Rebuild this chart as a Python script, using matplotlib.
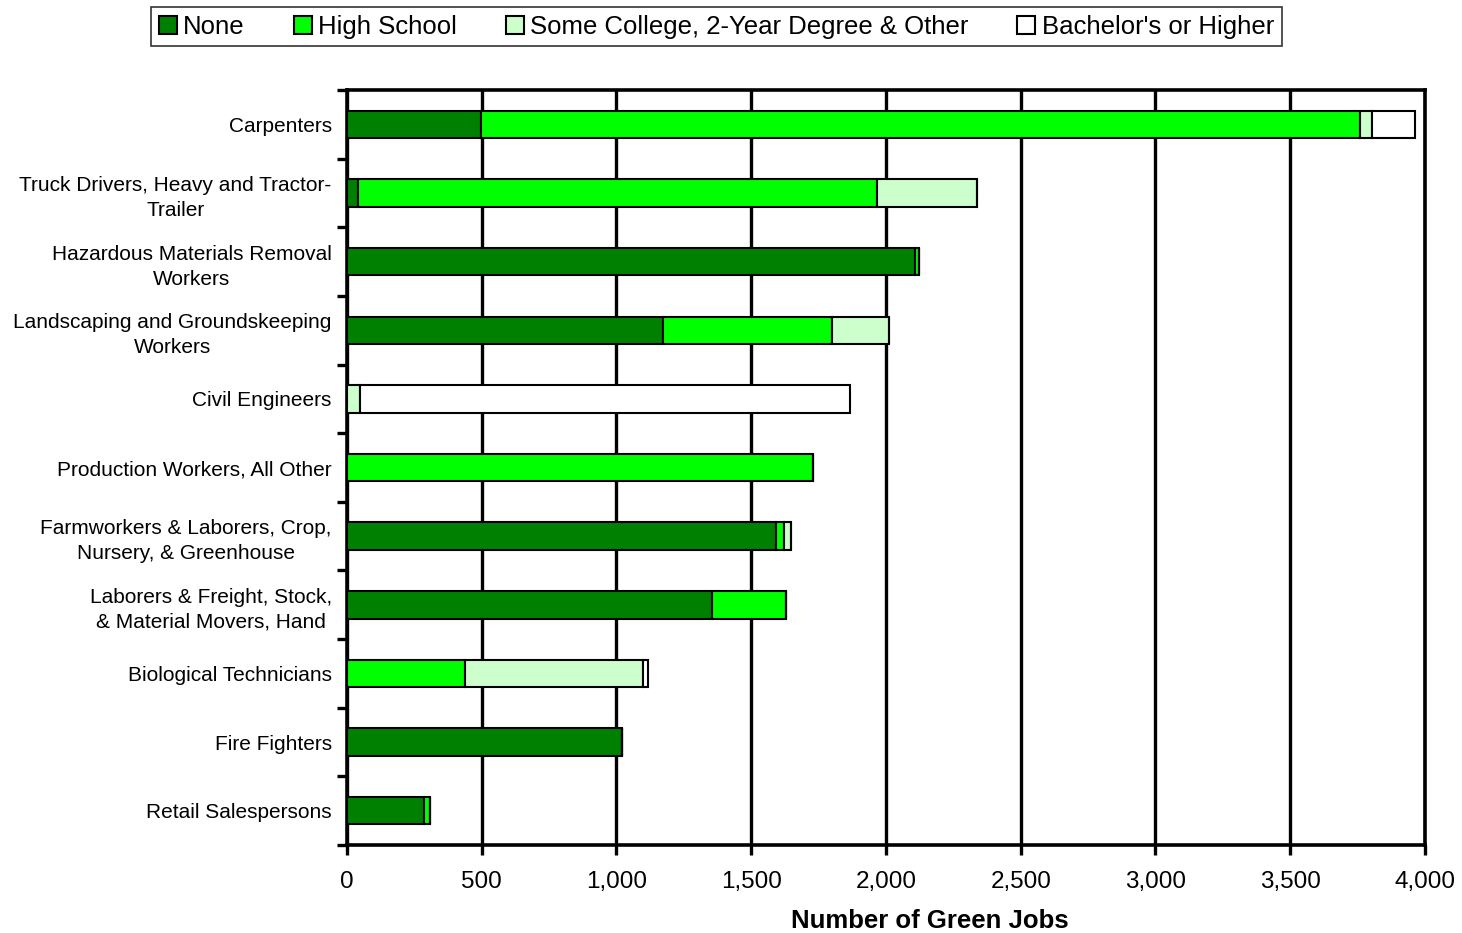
import matplotlib.pyplot as plt
import numpy as np

plt.rcParams['font.family'] = ['Liberation Sans', 'DejaVu Sans']

jobs = ['Carpenters', 'Truck Drivers, Heavy and Tractor-\nTrailer',
        'Hazardous Materials Removal\nWorkers',
        'Landscaping and Groundskeeping\nWorkers', 'Civil Engineers',
        'Production Workers, All Other',
        'Farmworkers & Laborers, Crop,\nNursery, & Greenhouse',
        'Laborers & Freight, Stock,\n& Material Movers, Hand',
        'Biological Technicians', 'Fire Fighters', 'Retail Salespersons']

none = [497, 41, 2107, 1172, 0, 0, 1592, 1354, 0, 1020, 286]
high_school = [3261, 1925, 15, 627, 0, 1729, 29, 275, 438, 0, 22]
some_college = [45, 371, 0, 212, 48, 0, 26, 0, 660, 0, 0]
bachelors = [160, 0, 0, 0, 1818, 0, 0, 0, 19, 0, 0]

series = [('None', none, '#008000'),
          ('High School', high_school, '#00ff00'),
          ("Some College, 2-Year Degree & Other", some_college, '#ccffcc'),
          ("Bachelor's or Higher", bachelors, '#ffffff')]

fig = plt.figure(figsize=(14.62, 9.33), dpi=100)
ax = fig.add_axes([0.2373, 0.0943, 0.9747 - 0.2373, 0.9035 - 0.0943])

y = np.arange(len(jobs))
left = np.zeros(len(jobs))
handles = []
for name, vals, col in series:
    vals = np.array(vals, dtype=float)
    b = ax.barh(y, vals, left=left, height=0.4, color=col, edgecolor='black',
                linewidth=1.5, label=name, zorder=3)
    handles.append(b)
    left += vals

ax.set_xlim(0, 4000)
ax.set_ylim(len(jobs) - 0.5, -0.5)
ax.set_xticks(np.arange(0, 4001, 500))
ax.set_xticklabels([f'{v:,}' for v in range(0, 4001, 500)], fontsize=17.5)
ax.xaxis.grid(True, color='black', linewidth=2.4, zorder=1)
ax.set_axisbelow(True)

ax.set_yticks(y)
ax.set_yticklabels(jobs, fontsize=15)
for lab in ax.get_yticklabels():
    lab.set_multialignment('center')
    lab.set_linespacing(1.4)
ax.set_yticks(np.arange(-0.5, len(jobs)), minor=True)
ax.tick_params(axis='y', which='major', length=0, pad=11)
ax.tick_params(axis='y', which='minor', length=7, width=2.4, direction='out')
ax.tick_params(axis='x', length=7, width=2.4, direction='out', pad=12)

for s in ax.spines.values():
    s.set_linewidth(2.6)

ax.set_xlabel('Number of Green Jobs', fontsize=18.5, fontweight='bold', labelpad=6)
ax.xaxis.set_label_coords(0.541, -0.085)

leg = fig.legend(handles=handles, loc='center', bbox_to_anchor=(0.49, 0.9715),
                 ncol=4, fontsize=18.5, frameon=True, fancybox=False,
                 edgecolor='black', handlelength=0.7, handleheight=0.7,
                 handletextpad=0.25, columnspacing=1.9, borderpad=0.3)
leg.get_frame().set_linewidth(1.2)

fig.savefig('out.png', dpi=100)
